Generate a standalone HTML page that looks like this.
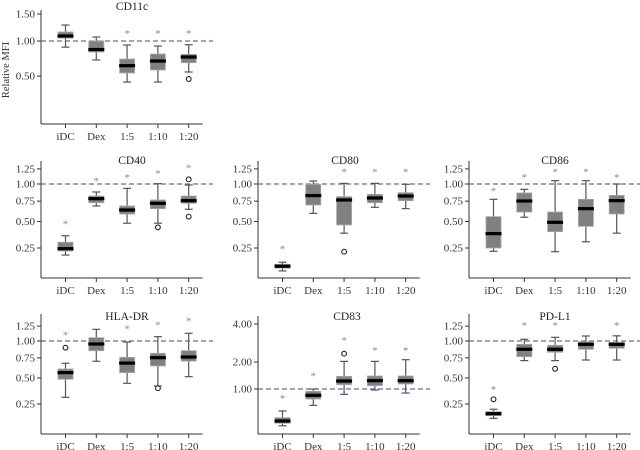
<!DOCTYPE html>
<html><head><meta charset="utf-8">
<style>
html,body{margin:0;padding:0;background:#fff;}
svg{display:block;font-family:"Liberation Serif",serif;}
</style></head>
<body>
<svg id="chart" width="640" height="450" viewBox="0 0 640 450" xmlns="http://www.w3.org/2000/svg"></svg>
<script>
const categories = ["iDC","Dex","1:5","1:10","1:20"];
// each: [whiskerLow, q1, median, q3, whiskerHigh]
const cd11cBoxes = [[0.90,1.05,1.085,1.156,1.284],[0.709,0.825,0.863,1.0,1.068],[0.433,0.538,0.631,0.722,0.934],[0.433,0.575,0.694,0.795,0.918],[0.55,0.671,0.751,0.79,0.939]];
const cd11cOutliers = [[],[],[],[],[0.467]];
const cd11cStars = [null,null,1.16,1.16,1.16];
const cd40Boxes = [[0.198,0.227,0.245,0.297,0.355],[0.686,0.729,0.784,0.821,0.879],[0.481,0.586,0.635,0.686,0.933],[0.481,0.652,0.721,0.766,1.005],[0.644,0.721,0.757,0.821,0.984]];
const cd40Outliers = [[],[],[],[0.438],[1.074,0.555]];
const cd40Stars = [0.49,1.074,1.129,1.196,1.288];
const cd80Boxes = [[0.103,0.117,0.128,0.139,0.151],[0.594,0.699,0.827,0.995,1.047],[0.379,0.463,0.766,0.812,1.01],[0.669,0.729,0.793,0.845,1.01],[0.652,0.757,0.821,0.869,0.995]];
const cd80Outliers = [[],[],[0.222],[],[]];
const cd80Stars = [0.252,null,1.219,1.219,1.219];
const cd86Boxes = [[0.225,0.25,0.375,0.555,0.775],[0.548,0.61,0.752,0.865,0.918],[0.222,0.394,0.491,0.61,1.053],[0.301,0.448,0.652,0.775,1.053],[0.379,0.586,0.757,0.83,1.0]];
const cd86Outliers = [[],[],[],[],[]];
const cd86Stars = [0.918,1.129,1.219,1.219,1.129];
const hladrBoxes = [[0.306,0.485,0.561,0.605,0.678],[0.704,0.852,0.953,1.053,1.194],[0.441,0.561,0.68,0.757,0.984],[0.413,0.643,0.753,0.814,1.07],[0.514,0.707,0.762,0.852,1.126]];
const hladrOutliers = [[0.897],[],[],[0.391],[]];
const hladrStars = [1.126,null,1.23,1.3,1.374];
const cd83Boxes = [[0.189,0.223,0.258,0.313,0.438],[0.561,0.716,0.815,0.93,1.0],[0.843,1.137,1.261,1.428,2.03],[0.97,1.104,1.273,1.44,2.03],[0.88,1.16,1.273,1.44,2.105]];
const cd83Outliers = [[],[],[2.38],[],[]];
const cd83Stars = [0.769,1.489,3.12,2.62,2.62];
const pdl1Boxes = [[0.149,0.166,0.179,0.193,0.21],[0.713,0.767,0.873,0.948,1.027],[0.713,0.829,0.873,0.933,1.059],[0.721,0.873,0.948,0.988,1.081],[0.721,0.888,0.948,0.978,1.084]];
const pdl1Outliers = [[0.289],[],[0.608],[],[]];
const pdl1Stars = [0.391,1.288,1.288,null,1.288];
const ticksA = [0.50,1.00,1.50];
const ticksB = [0.25,0.50,0.75,1.00,1.25];
const ticksC = [1.00,2.00,4.00];

const NS="http://www.w3.org/2000/svg";
const svg=document.getElementById('chart');
function mk(tag,attrs,parent){const e=document.createElementNS(NS,tag);for(const k in attrs)e.setAttribute(k,attrs[k]);(parent||svg).appendChild(e);return e;}

const panels=[
 {name:"cd11c",title:"CD11c",ax:41,top:14,bottom:124,y1:41,k:120,boxes:cd11cBoxes,out:cd11cOutliers,stars:cd11cStars,ticks:ticksA,tx:132,ty:10,ylabel:true},
 {name:"cd40",title:"CD40",ax:41,top:165,bottom:278,y1:184,k:128,boxes:cd40Boxes,out:cd40Outliers,stars:cd40Stars,ticks:ticksB,tx:132,ty:164},
 {name:"cd80",title:"CD80",ax:258,top:165,bottom:278,y1:184,k:128,boxes:cd80Boxes,out:cd80Outliers,stars:cd80Stars,ticks:ticksB,tx:345,ty:164},
 {name:"cd86",title:"CD86",ax:469,top:165,bottom:278,y1:184,k:128,boxes:cd86Boxes,out:cd86Outliers,stars:cd86Stars,ticks:ticksB,tx:555,ty:164},
 {name:"hla-dr",title:"HLA-DR",ax:41,top:318,bottom:434,y1:341,k:126,boxes:hladrBoxes,out:hladrOutliers,stars:hladrStars,ticks:ticksB,tx:127,ty:320},
 {name:"cd83",title:"CD83",ax:258,top:320,bottom:434,y1:389,k:65,boxes:cd83Boxes,out:cd83Outliers,stars:cd83Stars,ticks:ticksC,tx:347,ty:320},
 {name:"pd-l1",title:"PD-L1",ax:469,top:318,bottom:434,y1:341,k:126,boxes:pdl1Boxes,out:pdl1Outliers,stars:pdl1Stars,ticks:ticksB,tx:555,ty:320}
];

panels.forEach(p=>{
  const g=mk('g',{});
  
  
  const yS=v=>p.y1-(Math.sqrt(v)-1)*p.k;
  const xS=i=>p.ax+24.5+i*30.8;
  const right=p.ax+172;
  // axes
  const ya=mk('line',{x1:p.ax,y1:p.top-4,x2:p.ax,y2:p.bottom,stroke:'#333','stroke-width':1},g);
  
  
  const xa=mk('line',{x1:p.ax,y1:p.bottom,x2:xS(4)+14,y2:p.bottom,stroke:'#333','stroke-width':1},g);
  
  
  p.ticks.forEach(t=>{
    const y=yS(t);
    mk('line',{x1:p.ax-4,y1:y,x2:p.ax,y2:y,stroke:'#333'},g);
    const tl=mk('text',{x:p.ax-6,y:y+3.5,'text-anchor':'end','font-size':11,fill:'#333'},g);
    tl.textContent=t.toFixed(2);
    
    
  });
  categories.forEach((c,i)=>{
    const x=xS(i);
    mk('line',{x1:x,y1:p.bottom,x2:x,y2:p.bottom+4,stroke:'#333'},g);
    const cl=mk('text',{x:x,y:p.bottom+16,'text-anchor':'middle','font-size':11,fill:'#333'},g);
    cl.textContent=c;
    
    
  });
  // title
  const tt=mk('text',{x:p.tx,y:p.ty,'text-anchor':'middle','font-size':11.5,fill:'#222'},g);
  tt.textContent=p.title;
  
  
  // reference line
  const rl=mk('line',{x1:p.ax,y1:yS(1),x2:right,y2:yS(1),stroke:'#5b6fa8','stroke-width':1.3,'stroke-dasharray':'5,3'},g);
  
  
  // boxes
  p.boxes.forEach((b,i)=>{
    const x=xS(i);
    const bg=mk('g',{},g);
    
    
    mk('line',{x1:x,y1:yS(b[4]),x2:x,y2:yS(b[0]),stroke:'#555','stroke-width':1.2},bg);
    mk('line',{x1:x-4,y1:yS(b[4]),x2:x+4,y2:yS(b[4]),stroke:'#555','stroke-width':1.2},bg);
    mk('line',{x1:x-4,y1:yS(b[0]),x2:x+4,y2:yS(b[0]),stroke:'#555','stroke-width':1.2},bg);
    mk('rect',{x:x-7.5,y:yS(b[3]),width:15,height:Math.max(1,yS(b[1])-yS(b[3])),fill:'#808080',stroke:'#a8a8a8','stroke-width':0.8},bg);
    mk('rect',{x:x-8,y:yS(b[2])-1.6,width:16,height:3.2,fill:'#000'},bg);
    p.out[i].forEach(o=>{
      const oc=mk('circle',{cx:x,cy:yS(o),r:2.4,fill:'#fff',stroke:'#222','stroke-width':1.1},bg);
      
      
    });
    if(p.stars[i]!==null){
      const st=mk('text',{x:x,y:yS(p.stars[i])+5,'text-anchor':'middle','font-size':11,fill:'#888'},bg);
      st.textContent='*';
      
      
    }
  });
  if(p.ylabel){
    const yl=mk('text',{x:0,y:0,'text-anchor':'middle','font-size':10.5,fill:'#333',transform:'translate(9,70) rotate(-90)'},g);
    yl.textContent='Relative MFI';
    
    
  }
});
</script>
</body></html>
